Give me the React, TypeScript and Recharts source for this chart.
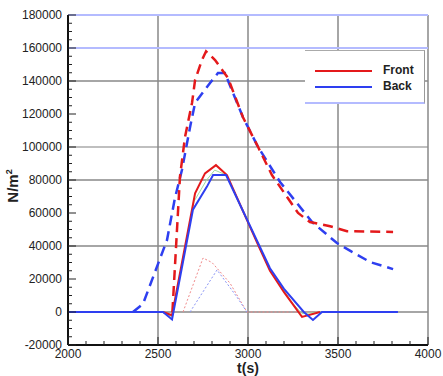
import React from 'react';
import { LineChart, Line, XAxis, YAxis, ReferenceLine } from 'recharts';

// time (s) / pressure (N/m^2)
const frontT = [2000, 2528, 2578, 2706, 2761, 2822, 2883, 3061, 3122, 3200, 3300, 3400];
const frontP = [0, 0, -2000, 72000, 84000, 89000, 83000, 39500, 25000, 12000, -3000, 0];

const backT = [2000, 2528, 2578, 2694, 2772, 2806, 2878, 3122, 3200, 3310, 3361, 3411, 3833];
const backP = [0, 0, -4500, 62000, 76000, 83000, 83000, 26500, 14000, 0, -4800, 0, 0];

const midT = [2528, 2578, 2700, 2770, 2815, 2880, 3122, 3250, 3300, 3400];
const midP = [0, -3000, 67000, 80000, 86000, 83000, 25000, 5000, -1000, 0];

const frontDashT = [2580, 2622, 2650, 2689, 2706, 2744, 2767, 2817, 2889, 2972, 3056, 3133, 3278, 3344, 3456, 3550, 3806];
const frontDashP = [0, 82000, 106000, 126700, 140600, 152700, 158000, 152700, 141800, 118000, 100000, 83000, 60000, 54500, 52000, 49000, 48500];

const backDashT = [2361, 2417, 2550, 2594, 2633, 2678, 2706, 2789, 2833, 2872, 2972, 3056, 3178, 3272, 3356, 3494, 3578, 3678, 3806];
const backDashP = [0, 5000, 43600, 69000, 86000, 112000, 126700, 138800, 144800, 144800, 118000, 100000, 78800, 66000, 54500, 41800, 36400, 30300, 26000];

const frontDotT = [2639, 2750, 2800, 2900, 2994, 3400];
const frontDotP = [0, 32700, 30000, 17500, 0, 0];

const backDotT = [2678, 2828, 2939, 2994];
const backDotP = [0, 25500, 9000, 0];

const xTicks = Array.from({ length: 21 }, (_, i) => 2000 + i * 100);
const yTicks = Array.from({ length: 41 }, (_, i) => -20000 + i * 5000);
const yGrid = [0, 40000, 80000, 100000, 140000];
const xGrid = [2500, 3000, 3500, 4000];

const zip = (t: number[], p: number[]) => t.map((x, i) => ({ x, y: p[i] }));

const RED = '#e4191b';
const BLUE = '#2e3ff0';
const tickFont = { fontFamily: 'Liberation Sans, Arial, sans-serif', fontSize: 12, fill: '#222' };

function YTick(props: any) {
  const { x, y, payload } = props;
  const v = payload.value as number;
  const major = v % 20000 === 0;
  const ax = x + 6;
  return (
    <g>
      <line x1={ax} x2={ax + (major ? 8 : 4)} y1={y} y2={y} stroke="#222" strokeWidth={1} />
      {major && (
        <text x={x} y={y} dy={4} textAnchor="end" {...tickFont}>
          {v}
        </text>
      )}
    </g>
  );
}

function XTick(props: any) {
  const { x, y, payload } = props;
  const v = payload.value as number;
  const major = v % 500 === 0;
  const ay = y - 4;
  return (
    <g>
      <line x1={x} x2={x} y1={ay} y2={ay - (major ? 8 : 4)} stroke="#222" strokeWidth={1} />
      {major && (
        <text x={x} y={y} dy={9} textAnchor="middle" {...tickFont}>
          {v}
        </text>
      )}
    </g>
  );
}

export default function App() {
  return (
    <div style={{ position: 'relative', width: 443, height: 376, background: '#fff' }}>
      <style>{'body{margin:0}'}</style>
      <LineChart width={443} height={376} margin={{ top: 15, right: 15, bottom: 0, left: 0 }}>
        <XAxis
          type="number"
          dataKey="x"
          domain={[2000, 4000]}
          ticks={xTicks}
          interval={0}
          tickSize={0}
          tickMargin={4}
          tickLine={false}
          height={31}
          axisLine={{ stroke: '#111', strokeWidth: 2 }}
          tick={<XTick />}
          allowDataOverflow
        />
        <YAxis
          type="number"
          domain={[-20000, 180000]}
          ticks={yTicks}
          interval={0}
          tickSize={0}
          tickMargin={6}
          tickLine={false}
          width={68}
          axisLine={{ stroke: '#111', strokeWidth: 2 }}
          tick={<YTick />}
          allowDataOverflow
        />
        {yGrid.map((v) => (
          <ReferenceLine key={'y' + v} y={v} stroke={v === 100000 ? '#aaa' : '#888'} strokeWidth={1.5} />
        ))}
        {xGrid.map((v) => (
          <ReferenceLine key={'x' + v} x={v} stroke="#888" strokeWidth={1.5} />
        ))}
        <ReferenceLine y={180000} stroke="#b4bbff" strokeWidth={2} />
        <ReferenceLine y={160000} stroke="#b4bbff" strokeWidth={2} />

        <Line data={zip(frontDotT, frontDotP)} dataKey="y" stroke="#f08a8a" strokeWidth={1} strokeDasharray="2 2" dot={false} isAnimationActive={false} />
        <Line data={zip(backDotT, backDotP)} dataKey="y" stroke="#8a95f5" strokeWidth={1} strokeDasharray="2 2" dot={false} isAnimationActive={false} />
        <Line data={zip(backDashT, backDashP)} dataKey="y" stroke={BLUE} strokeWidth={2.5} strokeDasharray="10 6" dot={false} isAnimationActive={false} />
        <Line data={zip(frontDashT, frontDashP)} dataKey="y" stroke={RED} strokeWidth={2.5} strokeDasharray="10 6" dot={false} isAnimationActive={false} />
        <Line data={zip(midT, midP)} dataKey="y" stroke="#9fdc9f" strokeWidth={1} dot={false} isAnimationActive={false} />
        <Line data={zip(frontT, frontP)} dataKey="y" stroke={RED} strokeWidth={2} dot={false} isAnimationActive={false} />
        <Line data={zip(backT, backP)} dataKey="y" stroke={BLUE} strokeWidth={2} dot={false} isAnimationActive={false} />
      </LineChart>

      {/* y label */}
      <div
        style={{
          position: 'absolute', left: 12, top: 186, transform: 'translate(-50%,-50%) rotate(-90deg)',
          fontFamily: 'Liberation Sans, Arial, sans-serif', fontWeight: 'bold', fontSize: 15, color: '#222', whiteSpace: 'nowrap',
        }}
      >
        N/m<sup style={{ fontSize: 9 }}>2</sup>
      </div>
      {/* x label */}
      <div
        style={{
          position: 'absolute', left: 248, top: 368, transform: 'translate(-50%,-50%)', lineHeight: '14px',
          fontFamily: 'Liberation Sans, Arial, sans-serif', fontWeight: 'bold', fontSize: 14, color: '#222',
        }}
      >
        t(s)
      </div>

      {/* legend box */}
      <div
        style={{
          position: 'absolute', left: 305, top: 50, width: 119, height: 51,
          borderTop: '1px solid #aaa', borderRight: '1px solid #999', borderBottom: '2px solid #b4bbff',
          background: '#fff', fontFamily: 'Liberation Sans, Arial, sans-serif', fontWeight: 'bold', fontSize: 12, color: '#222',
        }}
      >
        <div style={{ position: 'absolute', left: 10, top: 19, width: 57, height: 2, background: RED }} />
        <div style={{ position: 'absolute', left: 78, top: 12 }}>Front</div>
        <div style={{ position: 'absolute', left: 10, top: 35, width: 57, height: 2, background: BLUE }} />
        <div style={{ position: 'absolute', left: 78, top: 28 }}>Back</div>
      </div>
    </div>
  );
}
